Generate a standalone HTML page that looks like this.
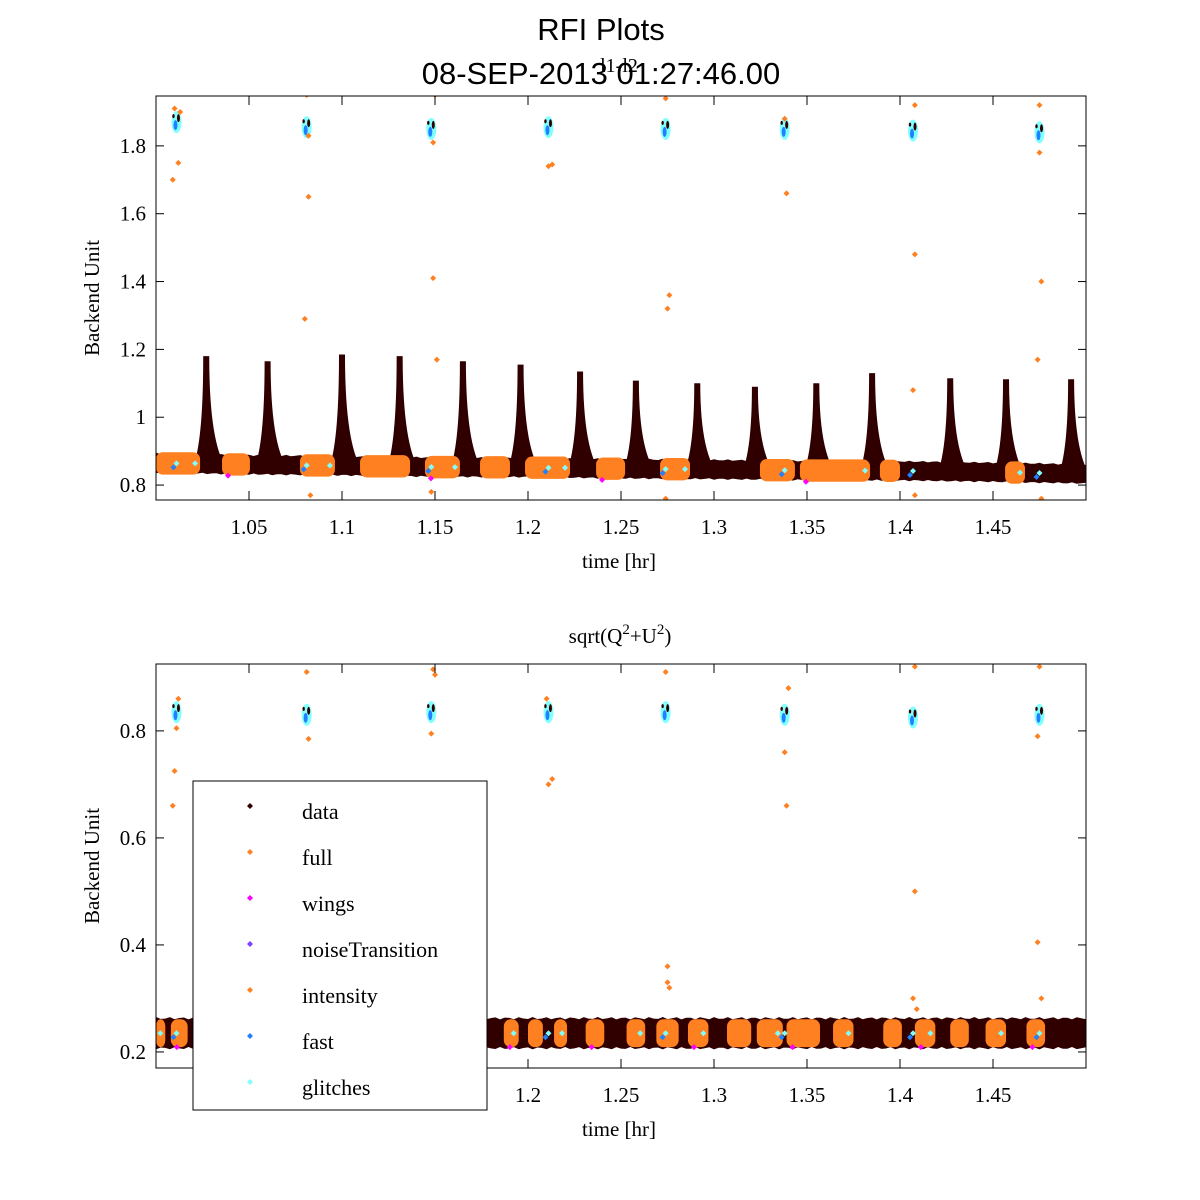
<!DOCTYPE html>
<html><head><meta charset="utf-8"><style>
body{margin:0;background:#fff;}
svg{display:block;font-family:"Liberation Serif",serif;}
</style></head><body>
<svg id="fig" width="1200" height="1200" viewBox="0 0 1200 1200" xmlns="http://www.w3.org/2000/svg">
<rect width="1200" height="1200" fill="#fff"/>
<text x="601" y="40" text-anchor="middle" font-family="Liberation Sans, sans-serif" font-size="31">RFI Plots</text>
<text x="601" y="84" text-anchor="middle" font-family="Liberation Sans, sans-serif" font-size="31">08-SEP-2013 01:27:46.00</text>
<text x="619" y="72" text-anchor="middle" font-size="20">l1-l2</text>
<text x="620" y="643" text-anchor="middle" font-size="21">sqrt(Q<tspan dy="-9" font-size="15">2</tspan><tspan dy="9">+U</tspan><tspan dy="-9" font-size="15">2</tspan><tspan dy="9">)</tspan></text>
<g id="top"></g>
<g id="bot"></g>
<g id="legend"></g>
</svg>
<script>
// ---- data ----
const peakTimes=[1.027,1.060,1.100,1.131,1.165,1.196,1.228,1.258,1.291,1.322,1.355,1.385,1.427,1.457,1.492];
const peakHeights=[1.18,1.165,1.185,1.18,1.165,1.155,1.135,1.108,1.10,1.09,1.10,1.13,1.115,1.112,1.112];
const clusterTimes=[1.011,1.081,1.148,1.211,1.274,1.338,1.407,1.475];
const topClusterVals=[1.87,1.855,1.85,1.855,1.85,1.85,1.845,1.84];
const botClusterVals=[0.835,0.83,0.835,0.835,0.835,0.83,0.825,0.83];
const topBaseTimes=[1.0,1.05,1.1,1.15,1.2,1.25,1.3,1.35,1.4,1.45,1.5];
const topBaseVals=[0.865,0.86,0.857,0.853,0.852,0.848,0.846,0.843,0.842,0.838,0.833];
const botBaseTimes=[1.0,1.25,1.5];
const botBaseVals=[0.235,0.235,0.235];
const topOrangeStart=[1.0,1.0355,1.0774,1.1097,1.1446,1.1742,1.1984,1.2366,1.271,1.3247,1.3462,1.3892,1.4565];
const topOrangeEnd=[1.0237,1.0505,1.0962,1.1366,1.1634,1.1903,1.2226,1.2522,1.2871,1.3435,1.3839,1.40,1.4672];
const botOrangeStart=[1.0,1.008,1.028,1.047,1.066,1.087,1.107,1.128,1.147,1.167,1.187,1.2,1.214,1.231,1.253,1.269,1.286,1.307,1.323,1.339,1.364,1.391,1.408,1.427,1.446,1.468];
const botOrangeEnd=[1.005,1.017,1.038,1.057,1.076,1.097,1.117,1.138,1.157,1.177,1.195,1.208,1.221,1.241,1.263,1.281,1.297,1.320,1.337,1.357,1.375,1.401,1.419,1.437,1.457,1.478];
const topOutT=[1.010,1.012,1.009,1.013,1.081,1.082,1.080,1.083,1.150,1.149,1.151,1.148,1.211,1.213,1.274,1.276,1.275,1.338,1.339,1.408,1.408,1.407,1.475,1.476,1.474,1.476,1.082,1.149,1.274,1.408,1.475,1.213];
const topOutV=[1.91,1.75,1.70,1.90,1.95,1.65,1.29,0.77,1.95,1.41,1.17,0.78,1.74,1.745,1.94,1.36,1.32,1.88,1.66,1.92,1.48,1.08,1.92,1.40,1.17,0.76,1.83,1.81,0.76,0.77,1.78,0.84];
const botOutT=[1.009,1.010,1.012,1.011,1.081,1.082,1.149,1.150,1.148,1.211,1.213,1.210,1.274,1.275,1.276,1.275,1.338,1.339,1.340,1.408,1.408,1.407,1.409,1.475,1.474,1.476,1.474];
const botOutV=[0.66,0.725,0.86,0.805,0.91,0.785,0.915,0.905,0.795,0.70,0.71,0.86,0.91,0.36,0.32,0.33,0.76,0.66,0.88,0.92,0.50,0.30,0.28,0.92,0.405,0.30,0.79];
const topYTicks=[0.8,1,1.2,1.4,1.6,1.8];
const topYLabels=["0.8","1","1.2","1.4","1.6","1.8"];
const botYTicks=[0.2,0.4,0.6,0.8];
const botYLabels=["0.2","0.4","0.6","0.8"];
const xTicks=[1.05,1.1,1.15,1.2,1.25,1.3,1.35,1.4,1.45];
const xLabels=["1.05","1.1","1.15","1.2","1.25","1.3","1.35","1.4","1.45"];
const legendNames=["data","full","wings","noiseTransition","intensity","fast","glitches"];
const legendColors=["#300000","#ff8020","#ff00ff","#8040ff","#ff8020","#2080ff","#80ffff"];

const NS="http://www.w3.org/2000/svg";
function mk(parent,tag,attrs){const e=document.createElementNS(NS,tag);for(const k in attrs)e.setAttribute(k,attrs[k]);parent.appendChild(e);return e;}
const L=156,R=1086;
const xs=t=>L+(t-1.0)/(0.5)*(R-L);
function baseAt(ts,vs,t){for(let i=0;i<ts.length-1;i++){if(t<=ts[i+1]){const f=(t-ts[i])/(ts[i+1]-ts[i]);return vs[i]+f*(vs[i+1]-vs[i]);}}return vs[vs.length-1];}
function diamond(g,x,y,c,name){const p=mk(g,'path',{d:`M${x} ${y-3}L${x+3} ${y}L${x} ${y+3}L${x-3} ${y}Z`,fill:c});}

function panel(id,top,bot,ymin,ymax,yt,yl,baseT,baseV,bandHalf,oH,oS,oE,clV,outT,outV,spikes){
  const g=document.getElementById(id);
  const ys=v=>bot-(v-ymin)/(ymax-ymin)*(bot-top);
  const clip=mk(g,'clipPath',{id:id+'clip'});mk(clip,'rect',{x:L,y:top,width:R-L,height:bot-top});
  const pg=mk(g,'g',{'clip-path':`url(#${id}clip)`});
  let up=[],dn=[];
  for(let t=1.0;t<=1.5001;t+=0.0025){const b=baseAt(baseT,baseV,t);const w=bandHalf*(1+0.08*Math.sin(t*900));up.push(`${xs(t).toFixed(1)},${ys(b+w).toFixed(1)}`);dn.unshift(`${xs(t).toFixed(1)},${ys(b-w).toFixed(1)}`);}
  const band=mk(pg,'polygon',{points:up.concat(dn).join(' '),fill:'#300000'});
  
  if(spikes){
    peakTimes.forEach((t,i)=>{
      const b=baseAt(baseT,baseV,t);const x=xs(t);const yp=ys(peakHeights[i]);const yb=ys(b-0.025);const yk=ys(b+0.035);
      const p=mk(pg,'path',{d:`M${x-16} ${yb} Q${x-3} ${yk} ${x-3} ${yp} L${x+3} ${yp} Q${x+3} ${yk} ${x+24} ${yb} Z`,fill:'#300000'});
      
    });
  }
  oS.forEach((s,i)=>{
    const b=baseAt(baseT,baseV,(s+oE[i])/2);
    const r=mk(pg,'rect',{x:xs(s),y:ys(b+oH),width:xs(oE[i])-xs(s),height:ys(b-oH)-ys(b+oH),rx:7,fill:'#ff8020'});
    
    if(i%3==1){diamond(pg,xs(s)+6,ys(b-oH),'#ff00ff','wings-point');}
    if(i%2==0){diamond(pg,xs(oE[i])-5,ys(b),'#80ffff','glitch-point');}
  });
  clusterTimes.forEach((t,i)=>{
    const x=xs(t),y=ys(clV[i]);
    const e=mk(pg,'ellipse',{cx:x,cy:y,rx:5,ry:11,fill:'#80ffff'});
    
    mk(pg,'ellipse',{cx:x-1,cy:y+3,rx:2,ry:5,fill:'#2080ff'});
    mk(pg,'ellipse',{cx:x+2,cy:y-4,rx:1.5,ry:4,fill:'#300000'});
    mk(pg,'ellipse',{cx:x-3,cy:y-6,rx:1.2,ry:2,fill:'#300000'});
    diamond(pg,x,ys(baseAt(baseT,baseV,t)),'#80ffff','glitch-point');
    diamond(pg,x-3,ys(baseAt(baseT,baseV,t))+4,'#2080ff','fast-point');
  });
  outT.forEach((t,i)=>{diamond(pg,xs(t),ys(outV[i]),'#ff8020','outlier-point');});
  const box=mk(g,'rect',{x:L,y:top,width:R-L,height:bot-top,fill:'none',stroke:'#000','stroke-width':1});
  
  yt.forEach((v,i)=>{const y=ys(v);mk(g,'line',{x1:L,x2:L+8,y1:y,y2:y,stroke:'#000'});mk(g,'line',{x1:R-8,x2:R,y1:y,y2:y,stroke:'#000'});
    const tx=mk(g,'text',{x:L-10,y:y+7,'text-anchor':'end','font-size':21});tx.textContent=yl[i];
    });
  xTicks.forEach((v,i)=>{const x=xs(v);mk(g,'line',{x1:x,x2:x,y1:bot,y2:bot-9,stroke:'#000'});mk(g,'line',{x1:x,x2:x,y1:top,y2:top+9,stroke:'#000'});
    const tx=mk(g,'text',{x:x,y:bot+34,'text-anchor':'middle','font-size':21});tx.textContent=xLabels[i];
    });
  const xl=mk(g,'text',{x:619,y:bot+68,'text-anchor':'middle','font-size':21});xl.textContent='time [hr]';
  
  const cy=(top+bot)/2;
  const yl2=mk(g,'text',{x:99,y:cy,'text-anchor':'middle','font-size':21,transform:`rotate(-90 99 ${cy})`});yl2.textContent='Backend Unit';
  
}
panel('top',96,500,0.756,1.947,topYTicks,topYLabels,topBaseTimes,topBaseVals,0.028,0.033,topOrangeStart,topOrangeEnd,topClusterVals,topOutT,topOutV,true);
panel('bot',664,1068,0.170,0.925,botYTicks,botYLabels,botBaseTimes,botBaseVals,0.028,0.026,botOrangeStart,botOrangeEnd,botClusterVals,botOutT,botOutV,false);
const lg=document.getElementById('legend');
const lb=mk(lg,'rect',{x:193,y:781,width:294,height:329,fill:'#fff',stroke:'#000'});

legendNames.forEach((n,i)=>{
  const y=812+i*46;
  const eg=mk(lg,'g',{});
  
  diamond(eg,250,y-6,legendColors[i],'legend-marker');
  const t=mk(eg,'text',{x:302,y:y+7,'font-size':22});t.textContent=n;
});
</script>
</body></html>
